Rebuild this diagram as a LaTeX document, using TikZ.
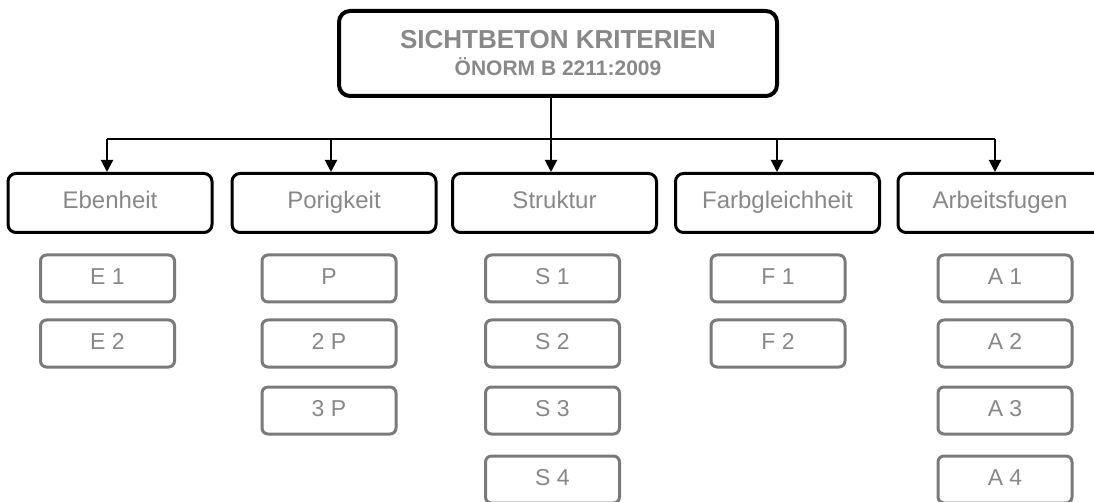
\documentclass[tikz,border=0pt]{standalone}
\usepackage{fontspec}
\setmainfont{Liberation Sans}
\usetikzlibrary{arrows.meta}
\definecolor{txtgray}{HTML}{888888}
\definecolor{boxgray}{HTML}{7A7A7A}
\begin{document}
\begin{tikzpicture}[x=1pt,y=-1pt,
  topbox/.style={draw=black,line width=4pt,rounded corners=11pt,fill=white,
    minimum width=438pt,minimum height=85pt,align=center,inner sep=0pt,text=txtgray,
    font=\bfseries\fontsize{26pt}{27pt}\selectfont},
  catbox/.style={draw=black,line width=3pt,rounded corners=8pt,fill=white,
    minimum width=204pt,minimum height=59pt,inner sep=0pt,text=txtgray,
    text height=17pt,text depth=5pt,
    font=\fontsize{24pt}{28pt}\selectfont},
  subbox/.style={draw=boxgray,line width=3pt,rounded corners=6pt,fill=white,
    minimum width=134pt,minimum height=47pt,inner sep=0pt,text=txtgray,
    text height=16.5pt,text depth=4.5pt,
    font=\fontsize{23pt}{27pt}\selectfont},
  link/.style={line width=2pt,draw=black},
  arr/.style={line width=2pt,draw=black,-{Triangle[length=12pt,width=12pt]}}]
\useasboundingbox (0,0) rectangle (1094,502);
% top
\node[topbox] (top) at (558,53.5) {SICHTBETON KRITERIEN\\{\fontsize{21pt}{27pt}\selectfont ÖNORM B 2211:2009}};
% categories
\node[catbox] (eb) at (110,203) {Ebenheit};
\node[catbox] (po) at (334,203) {Porigkeit};
\node[catbox] (st) at (554.5,203) {Struktur};
\node[catbox] (fa) at (777.5,203) {Farbgleichheit};
\node[catbox] (ar) at (1000,203) {Arbeitsfugen};
% connector coordinates
\coordinate (hub) at (551,139);
\coordinate (c1) at (107,139);
\coordinate (c2) at (331,139);
\coordinate (c3) at (551,139);
\coordinate (c4) at (777,139);
\coordinate (c5) at (995,139);
\draw[link] (top.south -| hub) -- (hub);
\draw[link] (c1) -- (c5);
\draw[arr] (c1) -- (c1 |- eb.north);
\draw[arr] (c2) -- (c2 |- po.north);
\draw[arr] (c3) -- (c3 |- st.north);
\draw[arr] (c4) -- (c4 |- fa.north);
\draw[arr] (c5) -- (c5 |- ar.north);
% sub boxes
\node[subbox] (e1) at (107.5,278.5) {E 1};
\node[subbox] (e2) at (107.5,343.5) {E 2};
\node[subbox] (p1) at (329,278.5) {P};
\node[subbox] (p2) at (329,343.5) {2 P};
\node[subbox] (p3) at (329,410.5) {3 P};
\node[subbox] (s1) at (552.5,278.5) {S 1};
\node[subbox] (s2) at (552.5,343.5) {S 2};
\node[subbox] (s3) at (552.5,410.5) {S 3};
\node[subbox] (s4) at (552.5,479.5) {S 4};
\node[subbox] (f1) at (778,278.5) {F 1};
\node[subbox] (f2) at (778,343.5) {F 2};
\node[subbox] (a1) at (1005,278.5) {A 1};
\node[subbox] (a2) at (1005,343.5) {A 2};
\node[subbox] (a3) at (1005,410.5) {A 3};
\node[subbox] (a4) at (1005,479.5) {A 4};
\end{tikzpicture}
\end{document}
